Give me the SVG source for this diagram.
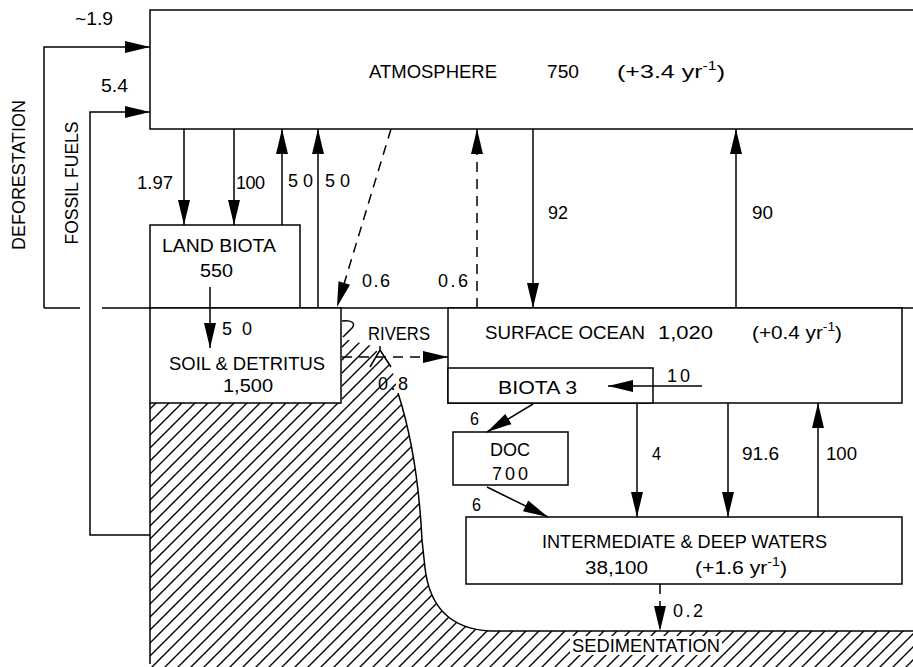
<svg xmlns="http://www.w3.org/2000/svg" width="913" height="667" viewBox="0 0 913 667">
<style>
text{font-family:"Liberation Sans",Arial,sans-serif;font-size:18px;fill:#000}
.w{font-size:18px}
.big{font-size:19px}
.box{fill:#fff;stroke:#000;stroke-width:1.5}
.ln{fill:none;stroke:#000;stroke-width:1.5}
.dash{fill:none;stroke:#000;stroke-width:1.5;stroke-dasharray:10 7}
.sup{font-size:12px}
</style>
<defs>
<marker id="ah" markerUnits="userSpaceOnUse" markerWidth="25" markerHeight="12" refX="25" refY="6" orient="auto" overflow="visible">
<path d="M0,0 L25,6 L0,12 Z" fill="#000"/>
</marker>
<pattern id="hatch" patternUnits="userSpaceOnUse" width="13" height="13">
<path d="M0,13 L13,0 M-2,2 L2,-2 M11,15 L15,11" stroke="#000" stroke-width="1.4" fill="none"/>
</pattern>
</defs>
<rect width="913" height="667" fill="#fff"/>

<g id="land-sediment">
<path d="M150,403 H342 V338 L372,346 L392,368 L398,393 C410,430 419,480 422,540 L425,568 Q432,628 490,631 H913 V667 H150 Z" fill="url(#hatch)"/>
<path class="ln" d="M150,403 V664 M398,393 C410,430 419,480 422,540 L425,568 Q432,628 490,631 H913"/>
<path class="ln" d="M342,321 C352,320 356,323 352,328 L343,337"/>
<path class="ln" d="M370,367 L380,350 L391,367 M380,350 V346"/>
<rect x="570" y="636" width="152" height="19" fill="#fff"/>
<text x="572" y="652" textLength="148" lengthAdjust="spacingAndGlyphs">SEDIMENTATION</text>
</g>

<g id="atmosphere">
<path class="ln" d="M913,10 H150 V129 H913"/>
<text class="big" x="369" y="78" textLength="128" lengthAdjust="spacingAndGlyphs">ATMOSPHERE</text>
<text class="big" x="547" y="78" textLength="32" lengthAdjust="spacingAndGlyphs">750</text>
<text class="big" x="617" y="78" textLength="108" lengthAdjust="spacingAndGlyphs">(+3.4 yr<tspan class="sup" dy="-8">-1</tspan><tspan dy="8">)</tspan></text>
</g>

<g id="ground-line">
<path class="ln" d="M44,308 H80 M102,308 H913"/>
</g>

<g id="land-biota">
<rect class="box" x="150" y="225" width="150" height="83"/>
<text x="162" y="252" textLength="114" lengthAdjust="spacingAndGlyphs">LAND BIOTA</text>
<text x="200" y="277" textLength="33" lengthAdjust="spacingAndGlyphs">550</text>
</g>

<g id="soil-detritus">
<rect class="box" x="150" y="308" width="191" height="95"/>
<text x="169" y="370" textLength="156" lengthAdjust="spacingAndGlyphs">SOIL &amp; DETRITUS</text>
<text x="223" y="392" textLength="50" lengthAdjust="spacingAndGlyphs">1,500</text>
</g>

<g id="surface-ocean">
<rect class="box" x="448" y="308" width="454" height="95"/>
<text x="485" y="339" textLength="160" lengthAdjust="spacingAndGlyphs">SURFACE OCEAN</text>
<text x="658" y="339" textLength="55" lengthAdjust="spacingAndGlyphs">1,020</text>
<text x="752" y="339" textLength="90" lengthAdjust="spacingAndGlyphs">(+0.4 yr<tspan class="sup" dy="-8">-1</tspan><tspan dy="8">)</tspan></text>
</g>

<g id="biota3">
<rect class="box" x="448" y="368" width="205" height="35"/>
<text x="498" y="394" textLength="79" lengthAdjust="spacingAndGlyphs">BIOTA 3</text>
</g>

<g id="doc">
<rect class="box" x="453" y="432" width="115" height="53"/>
<text x="490" y="456" textLength="40" lengthAdjust="spacingAndGlyphs">DOC</text>
<text x="492" y="480" textLength="36">700</text>
</g>

<g id="deep-waters">
<rect class="box" x="466" y="517" width="436" height="67"/>
<text x="542" y="548" textLength="285" lengthAdjust="spacingAndGlyphs">INTERMEDIATE &amp; DEEP WATERS</text>
<text x="585" y="574" textLength="63" lengthAdjust="spacingAndGlyphs">38,100</text>
<text x="695" y="574" textLength="92" lengthAdjust="spacingAndGlyphs">(+1.6 yr<tspan class="sup" dy="-8">-1</tspan><tspan dy="8">)</tspan></text>
</g>

<g id="connectors">
<path class="ln" d="M44,308 V47 H150" marker-end="url(#ah)"/>
<path class="ln" d="M150,535 H90 V112 H150" marker-end="url(#ah)"/>
<path class="ln" d="M184,129 V225" marker-end="url(#ah)"/>
<path class="ln" d="M234,129 V225" marker-end="url(#ah)"/>
<path class="ln" d="M282,225 V129" marker-end="url(#ah)"/>
<path class="ln" d="M318,308 V129" marker-end="url(#ah)"/>
<path class="dash" d="M391,129 L337,307" marker-end="url(#ah)"/>
<path class="dash" d="M477,308 V129" marker-end="url(#ah)"/>
<path class="ln" d="M533,129 V308" marker-end="url(#ah)"/>
<path class="ln" d="M736,308 V129" marker-end="url(#ah)"/>
<path class="ln" d="M210,287 V348" marker-end="url(#ah)"/>
<path class="dash" d="M342,357 H448" marker-end="url(#ah)"/>
<path class="ln" d="M702,386 H608" marker-end="url(#ah)"/>
<path class="ln" d="M533,404 L487,432" marker-end="url(#ah)"/>
<path class="ln" d="M487,487 L548,517" marker-end="url(#ah)"/>
<path class="ln" d="M637,403 V517" marker-end="url(#ah)"/>
<path class="ln" d="M728,403 V517" marker-end="url(#ah)"/>
<path class="ln" d="M818,517 V403" marker-end="url(#ah)"/>
<path class="dash" d="M660,584 V631" marker-end="url(#ah)"/>
</g>

<g id="labels">
<text x="75" y="25" textLength="38" lengthAdjust="spacingAndGlyphs">~1.9</text>
<text x="101" y="92" textLength="27" lengthAdjust="spacingAndGlyphs">5.4</text>
<text transform="translate(25,175) rotate(-90)" text-anchor="middle" textLength="150" lengthAdjust="spacingAndGlyphs">DEFORESTATION</text>
<text transform="translate(78,183) rotate(-90)" text-anchor="middle" textLength="123" lengthAdjust="spacingAndGlyphs">FOSSIL FUELS</text>
<text x="137" y="189" textLength="36" lengthAdjust="spacingAndGlyphs">1.97</text>
<text x="236" y="189" textLength="29">100</text>
<text x="288" y="187" textLength="25">50</text>
<text x="325" y="187" textLength="25">50</text>
<text x="362" y="287" textLength="28">0.6</text>
<text x="438" y="287" textLength="30">0.6</text>
<text x="222" y="335" textLength="30">50</text>
<text x="548" y="219" textLength="20" lengthAdjust="spacingAndGlyphs">92</text>
<text x="752" y="219" textLength="21" lengthAdjust="spacingAndGlyphs">90</text>
<text x="368" y="340" textLength="62" lengthAdjust="spacingAndGlyphs">RIVERS</text>
<text x="378" y="390" textLength="30">0.8</text>
<text x="667" y="382" textLength="23">10</text>
<text x="470" y="425" textLength="9" lengthAdjust="spacingAndGlyphs">6</text>
<text x="472" y="511" textLength="9" lengthAdjust="spacingAndGlyphs">6</text>
<text x="652" y="460" textLength="9" lengthAdjust="spacingAndGlyphs">4</text>
<text x="742" y="460" textLength="37" lengthAdjust="spacingAndGlyphs">91.6</text>
<text x="826" y="460" textLength="31" lengthAdjust="spacingAndGlyphs">100</text>
<text x="673" y="617" textLength="30">0.2</text>
</g>
</svg>
